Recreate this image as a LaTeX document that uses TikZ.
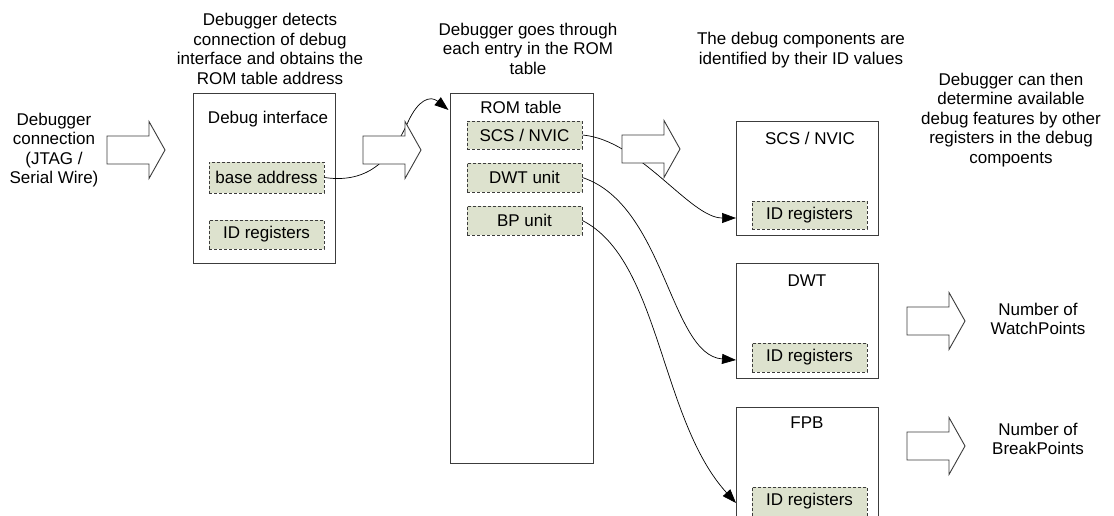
\documentclass[tikz,border=0pt]{standalone}
\usepackage{fontspec}
\setmainfont{Liberation Sans}
\usetikzlibrary{arrows.meta}
\definecolor{entryfill}{RGB}{221,226,206}
\definecolor{boxline}{RGB}{60,60,60}
\tikzset{
  txt/.style={align=center, inner sep=0pt, font=\fontsize{17}{19.5}\selectfont},
  outerbox/.style={draw=boxline, line width=0.9pt, fill=white, inner sep=0pt},
  entry/.style={draw=boxline, dashed, dash pattern=on 3pt off 2pt, line width=0.7pt, fill=entryfill,
    minimum width=115pt, minimum height=29pt, inner sep=0pt, font=\fontsize{17}{19.5}\selectfont},
  conn/.style={draw=black, line width=0.7pt, -{Triangle[length=14pt,width=10pt]}},
  bigarrow/.pic={\draw[fill=white, draw=boxline, line width=0.9pt]
     (0,-14) -- (42,-14) -- (42,-28.5) -- (58,0) -- (42,28.5) -- (42,14) -- (0,14) -- cycle;}
}
\begin{document}
\begin{tikzpicture}[x=1pt,y=-1pt]
\clip (0,0) rectangle (1114,516);
\fill[white] (0,0) rectangle (1114,516);

% texts
\node[txt] (tleft) at (54,150) {Debugger\\connection\\(JTAG /\\Serial Wire)};
\node[txt] (t1) at (270,49) {Debugger detects\\connection of debug\\interface and obtains the\\ROM table address};
\node[txt] (t2) at (528,48.5) {Debugger goes through\\each entry in the ROM\\table};
\node[txt] (t3) at (801,50) {The debug components are\\identified by their ID values};
\node[txt] (t4) at (1011,120) {Debugger can then\\determine available\\debug features by other\\registers in the debug\\compoents};
\node[txt] (twp) at (1038,319) {Number of\\WatchPoints};
\node[txt] (tbp) at (1038,439) {Number of\\BreakPoints};

% debug interface
\node[outerbox, minimum width=142pt, minimum height=170pt] (dbg) at (264,178) {};
\node[txt] (dbgt) at (268,119) {Debug interface};
\node[entry, minimum height=31pt] (base) at (266.5,177.5) {base address};
\node[entry] (dbgid) at (266.5,234.5) {ID registers};

% ROM table
\node[outerbox, minimum width=143pt, minimum height=370pt] (rom) at (521.5,278) {};
\node[txt] (romt) at (521,107) {ROM table};
\node[entry, minimum height=28pt] (escs) at (524.5,135) {SCS / NVIC};
\node[entry] (edwt) at (524.5,177.5) {DWT unit};
\node[entry] (ebp) at (524.5,220.5) {BP unit};

% component boxes
\node[outerbox, minimum width=142pt, minimum height=114pt] (scs) at (807,178) {};
\node[txt] (scst) at (810,138) {SCS / NVIC};
\node[entry, minimum height=28pt] (scsid) at (809.5,215) {ID registers};

\node[outerbox, minimum width=142pt, minimum height=115pt] (dwt) at (807,320.5) {};
\node[txt] (dwtt) at (807,281) {DWT};
\node[entry] (dwtid) at (809.5,357.5) {ID registers};

\node[outerbox, minimum width=142pt, minimum height=115pt] (fpb) at (807,464.5) {};
\node[txt] (fpbt) at (807,423) {FPB};
\node[entry] (fpbid) at (809.5,501.5) {ID registers};

% connectors
\coordinate (romin) at (448.5,110);
\draw[conn] (base.east) .. controls (375,185) and (395,150) .. (408,122)
   .. controls (418,100) and (430,95) .. (romin);
\coordinate (scsin) at (736,218);
\draw[conn] (escs.east) .. controls (640,140) and (690,218) .. (scsin);
\coordinate (dwtin) at (736,360);
\draw[conn] (edwt.east) .. controls (665,205) and (670,355) .. (dwtin);
\coordinate (fpbin) at (736,503);
\draw[conn] (ebp.east) .. controls (660,260) and (660,420) .. (fpbin);

% big hollow arrows
\pic (a1) at (107,150) {bigarrow};
\pic (a2) at (363,150) {bigarrow};
\pic (a3) at (622,149) {bigarrow};
\pic (a4) at (907,321) {bigarrow};
\pic (a5) at (907,446) {bigarrow};
\end{tikzpicture}
\end{document}
